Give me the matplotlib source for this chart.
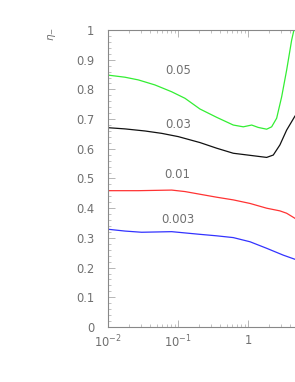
import numpy as np
import matplotlib
matplotlib.use("Agg")
import matplotlib.pyplot as plt
from matplotlib.ticker import FixedLocator, FixedFormatter, MultipleLocator, LogLocator, NullFormatter

plt.rcParams['font.family'] = ['DejaVu Sans']
plt.rcParams['mathtext.fontset'] = 'dejavusans'

# data
x_green = [0.0101, 0.0175, 0.0271, 0.0469, 0.0813, 0.126, 0.206, 0.357, 0.617, 0.857,
           1.13, 1.40, 1.85, 2.18, 2.57, 3.03, 3.57, 4.21, 4.54, 4.7]
y_green = [0.848, 0.841, 0.832, 0.815, 0.792, 0.770, 0.734, 0.706, 0.680, 0.674,
           0.680, 0.672, 0.666, 0.674, 0.703, 0.775, 0.865, 0.966, 1.0, 1.02]

x_black = [0.0101, 0.0175, 0.0338, 0.0585, 0.101, 0.206, 0.357, 0.617, 1.07, 1.85,
           2.30, 2.86, 3.57, 4.69]
y_black = [0.671, 0.667, 0.660, 0.652, 0.641, 0.621, 0.602, 0.585, 0.578, 0.571,
           0.579, 0.613, 0.663, 0.710]

x_red = [0.0101, 0.0271, 0.0813, 0.126, 0.206, 0.357, 0.617, 1.07, 1.85, 2.86,
         3.57, 4.69]
y_red = [0.459, 0.459, 0.461, 0.456, 0.447, 0.437, 0.428, 0.416, 0.400, 0.391,
         0.383, 0.366]

x_blue = [0.0101, 0.0175, 0.0302, 0.0813, 0.206, 0.357, 0.617, 1.07, 1.85, 3.19, 4.69]
y_blue = [0.329, 0.323, 0.319, 0.321, 0.312, 0.307, 0.301, 0.287, 0.265, 0.242, 0.228]

labels = ['0.05', '0.03', '0.01', '0.003']
label_x = [0.101, 0.1, 0.099, 0.1]
label_y = [0.862, 0.683, 0.512, 0.361]

xticks = [0.01, 0.1, 1]
xticklabels = [r'$10^{-2}$', r'$10^{-1}$', '1']
yticks = [0, 0.1, 0.2, 0.3, 0.4, 0.5, 0.6, 0.7, 0.8, 0.9, 1.0]
yticklabels = ['0', '0.1', '0.2', '0.3', '0.4', '0.5', '0.6', '0.7', '0.8', '0.9', '1']

gray = '#707070'
fig = plt.figure(figsize=(2.95, 3.82), dpi=100)
ax = fig.add_axes([108/295, 55/382, 187/295, 297/382])

ax.plot(x_green, y_green, color='#33ee33', lw=0.9)
ax.plot(x_black, y_black, color='#111111', lw=0.9)
ax.plot(x_red, y_red, color='#ff3333', lw=0.9)
ax.plot(x_blue, y_blue, color='#3333ff', lw=0.9)

for t, lx, ly in zip(labels, label_x, label_y):
    ax.text(lx, ly, t, color=gray, fontsize=8.4, ha='center', va='center')

ax.set_xscale('log')
ax.set_xlim(0.01, 4.7)
ax.set_ylim(0, 1)

ax.xaxis.set_major_locator(FixedLocator(xticks))
ax.xaxis.set_major_formatter(FixedFormatter(xticklabels))
ax.xaxis.set_minor_locator(LogLocator(base=10, subs=np.arange(2, 10)))
ax.xaxis.set_minor_formatter(NullFormatter())
ax.yaxis.set_major_locator(FixedLocator(yticks))
ax.yaxis.set_major_formatter(FixedFormatter(yticklabels))
ax.yaxis.set_minor_locator(MultipleLocator(0.02))

ax.tick_params(which='both', direction='in', colors='#aaaaaa', labelcolor=gray,
               top=True, right=False, labelsize=8.3)
ax.tick_params(which='major', length=5, width=0.6)
ax.tick_params(which='minor', length=2.5, width=0.5)
ax.tick_params(axis='y', pad=10)
ax.tick_params(axis='x', pad=5)

for s in ['left', 'bottom', 'top']:
    ax.spines[s].set_color('#888888')
    ax.spines[s].set_linewidth(0.8)
ax.spines['right'].set_visible(False)

fig.text(52/295, 1 - 34/382, r'$\eta_{-}$', rotation=90, color=gray,
         fontsize=7.5, ha='center', va='center')

fig.savefig('out.png', dpi=100)
